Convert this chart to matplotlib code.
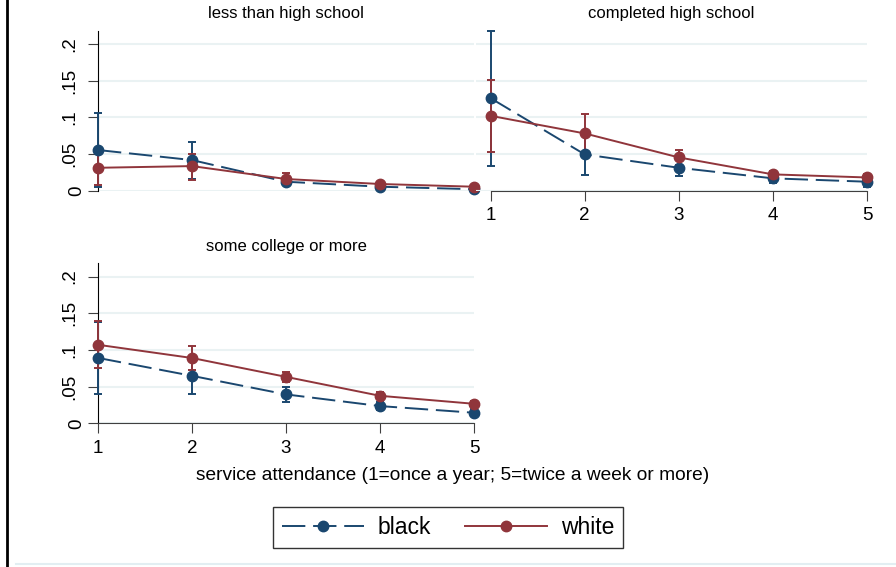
import matplotlib
matplotlib.use("Agg")
import matplotlib.pyplot as plt
from matplotlib.lines import Line2D
from matplotlib.transforms import ScaledTranslation

plt.rcParams['font.family'] = ['Liberation Sans', 'DejaVu Sans']

# service attendance levels
attend = [1, 2, 3, 4, 5]

# less than high school
lths_black = [0.0554, 0.0417, 0.0122, 0.0054, 0.0020]
lths_black_lo = [0.0045, 0.0155, 0.0085, 0.0030, 0.0005]
lths_black_hi = [0.1060, 0.0665, 0.0160, 0.0080, 0.0035]
lths_white = [0.0312, 0.0335, 0.0159, 0.0091, 0.0054]
lths_white_lo = [0.0077, 0.0145, 0.0090, 0.0065, 0.0035]
lths_white_hi = [0.0550, 0.0500, 0.0236, 0.0118, 0.0075]

# completed high school
hs_black = [0.1260, 0.0494, 0.0312, 0.0168, 0.0122]
hs_black_lo = [0.0340, 0.0217, 0.0204, 0.0110, 0.0046]
hs_black_hi = [0.2180, 0.0770, 0.0420, 0.0225, 0.0195]
hs_white = [0.1020, 0.0780, 0.0453, 0.0222, 0.0180]
hs_white_lo = [0.0530, 0.0510, 0.0350, 0.0175, 0.0130]
hs_white_hi = [0.1510, 0.1046, 0.0553, 0.0270, 0.0230]

# some college or more
col_black = [0.0891, 0.0647, 0.0394, 0.0235, 0.0144]
col_black_lo = [0.0394, 0.0394, 0.0285, 0.0180, 0.0100]
col_black_hi = [0.1380, 0.0900, 0.0497, 0.0290, 0.0190]
col_white = [0.1070, 0.0890, 0.0633, 0.0375, 0.0266]
col_white_lo = [0.0760, 0.0724, 0.0560, 0.0325, 0.0225]
col_white_hi = [0.1400, 0.1050, 0.0700, 0.0425, 0.0310]

yticks = [0, 0.05, 0.1, 0.15, 0.2]
ytick_labels = ['0', '.05', '.1', '.15', '.2']

navy = '#1a476f'
maroon = '#90353b'
grid_c = '#eaf2f3'
dash = (0, (12, 4))

fig = plt.figure(figsize=(8.96, 5.67), dpi=100)


def draw_panel(ax, title, bl, bl_lo, bl_hi, wh, wh_lo, wh_hi, show_y, show_x):
    for yv in yticks:
        ax.axhline(yv, color=grid_c, lw=1.5, zorder=0)
    for vals, lo, hi, col, ls in [(bl, bl_lo, bl_hi, navy, dash),
                                  (wh, wh_lo, wh_hi, maroon, '-')]:
        err = [[v - l for v, l in zip(vals, lo)], [h - v for v, h in zip(vals, hi)]]
        ax.errorbar(attend, vals, yerr=err, fmt='none', ecolor=col, elinewidth=1.4,
                    capsize=2.6, capthick=1.4, clip_on=False, zorder=3)
        ax.plot(attend, vals, color=col, lw=1.4, linestyle=ls, marker='o',
                markersize=7.5, clip_on=False, zorder=4)
    ax.set_ylim(0, 0.218)
    ax.set_title(title, fontsize=12, pad=9)
    for s in ['top', 'right']:
        ax.spines[s].set_visible(False)
    ax.spines['left'].set_visible(show_y)
    ax.spines['bottom'].set_visible(show_x)
    ax.spines['bottom'].set_bounds(1, 5)
    ax.spines['bottom'].set_color('#404040')
    if show_y:
        ax.set_yticks(yticks)
        ax.set_yticklabels(ytick_labels, rotation=90, va='center', fontsize=13.5)
        ax.tick_params(axis='y', length=7, pad=7, color='#404040')
        # the zero label sits a little closer to the axis
        zero = ax.yaxis.get_major_ticks()[0].label1
        zero.set_transform(zero.get_transform() + ScaledTranslation(5 / 72, 0, fig.dpi_scale_trans))
    else:
        ax.set_yticks([])
    if show_x:
        ax.set_xticks(attend)
        ax.tick_params(axis='x', labelsize=13.5, length=7, pad=5, color='#404040')
    else:
        ax.set_xticks([])
    ax.set_facecolor('none')


ax1 = fig.add_axes([0.1094, 0.6637, 0.4196, 0.2822])
ax1.set_xlim(1, 5)
draw_panel(ax1, 'less than high school', lths_black, lths_black_lo, lths_black_hi,
           lths_white, lths_white_lo, lths_white_hi, True, False)

ax2 = fig.add_axes([0.5312, 0.6637, 0.4365, 0.2822])
ax2.set_xlim(0.844, 5)
draw_panel(ax2, 'completed high school', hs_black, hs_black_lo, hs_black_hi,
           hs_white, hs_white_lo, hs_white_hi, False, True)

ax3 = fig.add_axes([0.1094, 0.2534, 0.4196, 0.2822])
ax3.set_xlim(1, 5)
draw_panel(ax3, 'some college or more', col_black, col_black_lo, col_black_hi,
           col_white, col_white_lo, col_white_hi, True, True)

fig.text(0.505, 0.162, 'service attendance (1=once a year; 5=twice a week or more)',
         ha='center', va='center', fontsize=13.8)

handles = [Line2D([], [], color=navy, lw=1.4, linestyle=dash, marker='o', markersize=7.5),
           Line2D([], [], color=maroon, lw=1.4, marker='o', markersize=7.5)]
leg = fig.legend(handles, ['black', 'white'], loc='center', bbox_to_anchor=(0.5, 0.0697),
                 ncol=2, fontsize=16.5, frameon=True, fancybox=False, handlelength=3.6,
                 columnspacing=1.45, borderpad=0.4, handletextpad=0.6)
leg.get_frame().set_edgecolor('black')
leg.get_frame().set_linewidth(1.0)

# outer frame edges
fig.add_artist(Line2D([0.008, 0.008], [0, 1], color='black', lw=2, transform=fig.transFigure))
fig.add_artist(Line2D([0.018, 1], [0.005, 0.005], color='#e2eef2', lw=1.5, transform=fig.transFigure))

fig.savefig('out.png', dpi=100)
